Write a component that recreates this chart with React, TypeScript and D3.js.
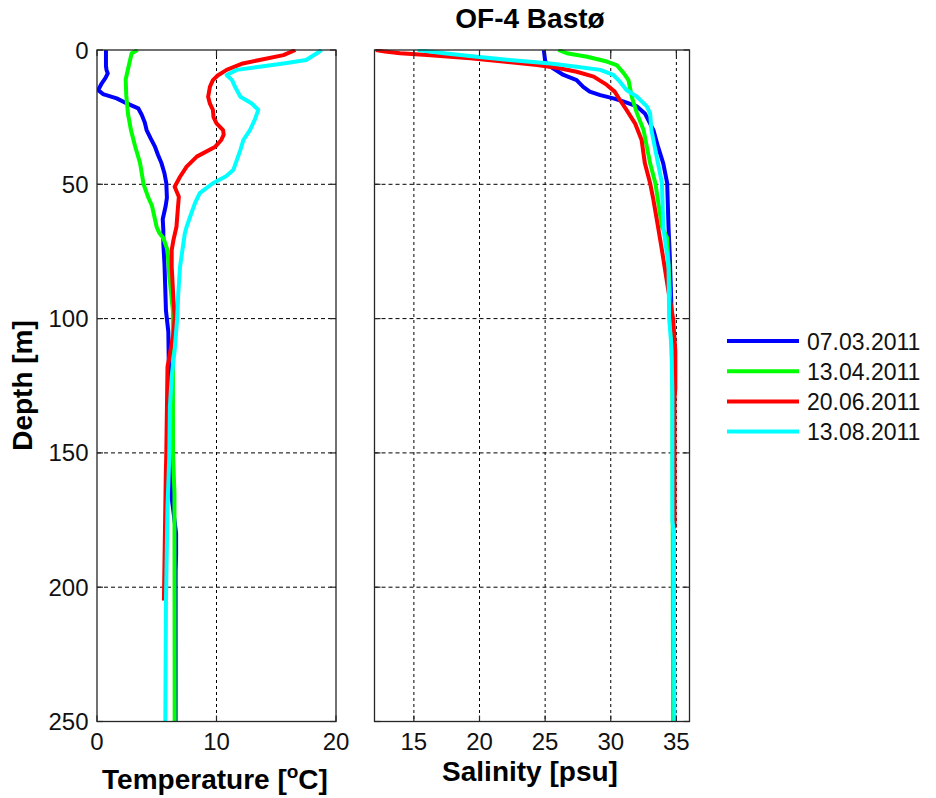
import React from 'react';
import * as d3 from 'd3';

// [depth m, value] pairs
const temp0703: [number, number][] = [
  [0, 0.75], [6, 0.75], [7.5, 0.8], [8.7, 0.9], [10.5, 0.7], [12.4, 0.4], [14.9, 0.1], [16.4, 0.5],
  [18, 1.65], [19.9, 2.5], [21.7, 3.45], [24.2, 3.75], [27, 4.0], [29.8, 4.15], [33, 4.5], [36, 4.85],
  [39, 5.1], [42.2, 5.4], [46, 5.65], [49.6, 5.8], [55, 5.85], [58, 5.75], [63, 5.5], [67, 5.55],
  [72, 5.55], [80, 5.65], [87, 5.7], [97, 5.77], [105, 5.97], [115, 6.0], [122, 6.1], [140, 6.3],
  [150, 6.3], [157, 6.2], [165, 6.2], [172, 6.4], [180, 6.62], [188, 6.62], [194, 6.58], [250, 6.58]
];
const temp1304: [number, number][] = [
  [0, 3.4], [1.2, 2.9], [5, 2.7], [11, 2.4], [17, 2.45], [24, 2.6], [30, 2.85], [36, 3.2],
  [42, 3.6], [50, 3.9], [55, 4.3], [58, 4.6], [63, 4.85], [66, 5.0], [68, 5.2], [70, 5.55],
  [74.5, 5.9], [84, 6.05], [97, 6.35], [110, 6.35], [150, 6.36], [165, 6.48], [250, 6.5]
];
const temp2006: [number, number][] = [
  [0, 16.6], [1.9, 15.6], [3.7, 13.6], [5, 12.2], [7.4, 10.85], [9.5, 10.1], [11.2, 9.7], [13.7, 9.45],
  [17.4, 9.3], [20, 9.45], [22.3, 9.7], [25, 9.75], [27.3, 10.0], [29.8, 10.55], [31.5, 10.6], [33.5, 10.4],
  [36, 9.9], [39.7, 8.35], [43.4, 7.5], [47.2, 6.95], [50.9, 6.5], [54.6, 6.85], [60, 6.75], [65.8, 6.65],
  [70.7, 6.4], [74.5, 6.25], [80.7, 6.25], [93, 6.4], [99.3, 6.5], [105.5, 6.4], [111.7, 6.15], [118, 5.9],
  [150, 5.8], [160, 5.75], [190, 5.65], [205, 5.6]
];
const temp1308: [number, number][] = [
  [0, 18.8], [1.2, 18.4], [3.7, 17.5], [5, 15.6], [6.2, 13.6], [7.4, 11.7], [9.3, 10.85], [11.2, 11.3],
  [13.7, 11.55], [17.4, 12.0], [19.9, 12.95], [22.3, 13.5], [26, 13.2], [29.8, 12.8], [33.5, 12.25], [37.2, 12.0],
  [41, 11.7], [44.7, 11.4], [47, 10.8], [49.6, 9.7], [53.3, 8.6], [57, 8.2], [62, 7.8], [65.8, 7.5],
  [68.2, 7.35], [80.7, 6.95], [90.6, 6.8], [100.5, 6.7], [111.7, 6.5], [121.6, 6.25], [132.8, 6.1], [151.4, 6.05],
  [170, 5.9], [205, 5.77], [250, 5.72]
];

const sal0703: [number, number][] = [
  [0, 24.9], [4, 25.0], [5, 25.1], [6.8, 25.6], [9.3, 26.4], [11.2, 27.4], [13.7, 27.9], [15.5, 28.4],
  [16.8, 29.2], [18, 30.2], [19.2, 31.0], [21, 32.0], [23.6, 32.6], [29.8, 33.25], [36, 33.6], [42.2, 34.0],
  [49.6, 34.3], [65.8, 34.4], [77, 34.5], [100, 34.65], [130, 34.75], [250, 34.8]
];
const sal1304: [number, number][] = [
  [0, 26.0], [1.2, 26.65], [2.5, 28.2], [4.3, 29.7], [5.6, 30.45], [8.7, 31.0], [11.2, 31.35], [17.4, 31.6],
  [23.6, 32.0], [29.8, 32.5], [42.2, 33.0], [49.6, 33.4], [65.8, 33.9], [70, 34.3], [90, 34.5], [120, 34.7],
  [250, 34.75]
];
const sal2006: [number, number][] = [
  [0, 12.1], [0.6, 12.8], [1.2, 13.95], [1.9, 16.0], [3.1, 19.3], [4.3, 21.8], [5.6, 24.4], [6.8, 26.1],
  [8.1, 27.4], [9.9, 28.7], [13, 29.7], [15.5, 30.3], [18.6, 30.7], [22.3, 31.2], [27.3, 31.85], [33.5, 32.35],
  [42.2, 32.6], [49.6, 33.0], [55.8, 33.25], [65.8, 33.6], [74.5, 33.9], [90, 34.4], [100, 34.75], [112, 34.92],
  [126, 34.92], [130, 34.86], [178, 34.86]
];
const sal1308: [number, number][] = [
  [0, 15.3], [0.6, 16.2], [1.2, 17.3], [2.5, 19.8], [3.7, 22.3], [5, 25.4], [6.2, 27.4], [7.4, 29.2],
  [9.3, 30.2], [11.8, 30.7], [14.9, 31.2], [17.4, 32.0], [21, 32.75], [23.6, 33.0], [29.8, 33.1], [42.2, 33.6],
  [49.6, 33.9], [65.8, 34.0], [80, 34.4], [100, 34.45], [110, 34.62], [128, 34.7], [175, 34.7], [180, 34.8],
  [250, 34.85]
];

const dates = ['07.03.2011', '13.04.2011', '20.06.2011', '13.08.2011'];
const colors = ['#0000ff', '#00ff00', '#ff0000', '#00ffff'];
const tempSeries = [temp0703, temp1304, temp2006, temp1308];
const salSeries = [sal0703, sal1304, sal2006, sal1308];

const depthTicks = [0, 50, 100, 150, 200, 250];
const tempTicks = [0, 10, 20];
const salTicks = [15, 20, 25, 30, 35];

const FONT = '"Liberation Sans", Arial, Helvetica, sans-serif';
const AXIS = '#262626';

export default function App() {
  const W = 936;
  const H = 798;
  const top = 50;
  const bottom = 721.5;

  const y = d3.scaleLinear().domain([0, 250]).range([top, bottom]);
  const xT = d3.scaleLinear().domain([0, 20]).range([97, 336]);
  const xS = d3.scaleLinear().domain([12, 36]).range([374.5, 689.5]);

  const panel = (
    x: d3.ScaleLinear<number, number>,
    xticks: number[],
    series: [number, number][][],
    showY: boolean,
    key: string
  ) => {
    const [x0, x1] = x.range();
    const line = d3.line<[number, number]>().x((d) => x(d[1])).y((d) => y(d[0]));
    const tl = 6;
    return (
      <g key={key}>
        <rect x={x0} y={top} width={x1 - x0} height={bottom - top} fill="#fff" />
        {/* grid */}
        {xticks.filter((t) => x(t) > x0 + 1 && x(t) < x1 - 1).map((t) => (
          <line key={'gx' + t} x1={x(t)} x2={x(t)} y1={top} y2={bottom}
            stroke="#000" strokeWidth={1} strokeDasharray="3 3" />
        ))}
        {depthTicks.filter((t) => t > 0 && t < 250).map((t) => (
          <line key={'gy' + t} x1={x0} x2={x1} y1={y(t)} y2={y(t)}
            stroke="#000" strokeWidth={1} strokeDasharray="4 3" />
        ))}
        {/* profiles */}
        <clipPath id={`clip-${key}`}>
          <rect x={x0} y={top - 1} width={x1 - x0} height={bottom - top + 2} />
        </clipPath>
        <g clipPath={`url(#clip-${key})`}>
          {series.map((s, i) => (
            <path key={i} d={line(s) || ''} fill="none" stroke={colors[i]}
              strokeWidth={4} strokeLinejoin="round" />
          ))}
        </g>
        {/* ticks inside */}
        {xticks.map((t) => (
          <g key={'tx' + t}>
            <line x1={x(t)} x2={x(t)} y1={bottom} y2={bottom - tl} stroke={AXIS} strokeWidth={1.2} />
            <line x1={x(t)} x2={x(t)} y1={top} y2={top + tl} stroke={AXIS} strokeWidth={1.2} />
          </g>
        ))}
        {depthTicks.map((t) => (
          <g key={'ty' + t}>
            <line x1={x0} x2={x0 + tl} y1={y(t)} y2={y(t)} stroke={AXIS} strokeWidth={1.2} />
            <line x1={x1} x2={x1 - tl} y1={y(t)} y2={y(t)} stroke={AXIS} strokeWidth={1.2} />
          </g>
        ))}
        <rect x={x0} y={top} width={x1 - x0} height={bottom - top} fill="none" stroke={AXIS} strokeWidth={1.3} />
        {/* tick labels */}
        {xticks.map((t) => (
          <text key={'lx' + t} x={x(t)} y={750} textAnchor="middle" fontSize={24} fontFamily={FONT} fill="#111">
            {t}
          </text>
        ))}
        {showY && depthTicks.map((t) => (
          <text key={'ly' + t} x={88.5} y={y(t) + 8.5} textAnchor="end" fontSize={24} fontFamily={FONT} fill="#111">
            {t}
          </text>
        ))}
      </g>
    );
  };

  return (
    <svg width={W} height={H} style={{ position: 'absolute', left: 0, top: 0, background: '#fff' }}>
      <rect width={W} height={H} fill="#fff" />
      {panel(xT, tempTicks, tempSeries, true, 'temp')}
      {panel(xS, salTicks, salSeries, false, 'sal')}

      <text x={530} y={28} textAnchor="middle" fontSize={28} fontWeight="bold" fontFamily={FONT} fill="#000">
        OF-4 Bastø
      </text>
      <text x={215} y={789} textAnchor="middle" fontSize={28} fontWeight="bold" fontFamily={FONT} fill="#000">
        Temperature [<tspan fontSize={19} dy={-11}>o</tspan><tspan dy={11}>C]</tspan>
      </text>
      <text x={530} y={781} textAnchor="middle" fontSize={28} fontWeight="bold" fontFamily={FONT} fill="#000">
        Salinity [psu]
      </text>
      <text transform={`translate(31.5,385.5) rotate(-90)`} textAnchor="middle" fontSize={28} fontWeight="bold"
        fontFamily={FONT} fill="#000">
        Depth [m]
      </text>

      {dates.map((dt, i) => {
        const ly = 341 + i * 30.2;
        return (
          <g key={dt}>
            <line x1={727} x2={799} y1={ly} y2={ly} stroke={colors[i]} strokeWidth={4} />
            <text x={807} y={ly + 8.5} fontSize={23} fontFamily={FONT} fill="#111">{dt}</text>
          </g>
        );
      })}
    </svg>
  );
}
